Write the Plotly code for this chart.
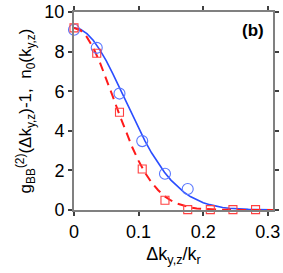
import plotly.graph_objects as go

# measured data
x_pts = [0.0, 0.0352, 0.0704, 0.1056, 0.1408, 0.176, 0.211, 0.246, 0.281]
g2_vals = [9.10, 8.19, 5.88, 3.48, 1.83, 1.06]
n0_vals = [9.20, 7.92, 4.94, 2.07, 0.49, 0.02, 0.02, 0.02, 0.02]

# fitted curves
x_fit = [0.00, 0.01, 0.02, 0.03, 0.04, 0.05, 0.06, 0.07, 0.08, 0.09, 0.10,
         0.11, 0.12, 0.13, 0.14, 0.15, 0.16, 0.17, 0.18, 0.19, 0.20,
         0.21, 0.22, 0.23, 0.24, 0.25, 0.26, 0.27, 0.28, 0.29, 0.30, 0.31]
g2_fit = [9.20, 9.13, 8.91, 8.56, 8.09, 7.53, 6.89, 6.21, 5.50, 4.80, 4.12,
          3.48, 2.89, 2.37, 1.91, 1.51, 1.18, 0.90, 0.68, 0.51, 0.37,
          0.27, 0.19, 0.13, 0.09, 0.06, 0.04, 0.03, 0.02, 0.01, 0.01, 0.01]
n0_fit = [9.20, 9.08, 8.73, 8.18, 7.46, 6.63, 5.74, 4.84, 3.98, 3.18, 2.48,
          1.88, 1.39, 1.01, 0.70, 0.48, 0.32, 0.21, 0.13, 0.08, 0.05,
          0.03, 0.02, 0.01, 0.0, 0.0, 0.0, 0.0, 0.0, 0.0, 0.0, 0.0]

x_ticks = [0, 0.1, 0.2, 0.3]
x_tick_labels = ["0", "0.1", "0.2", "0.3"]
y_ticks = [0, 2, 4, 6, 8, 10]

blue = "#2a4dff"
red = "#ff1a1a"
font_family = "Liberation Sans, Arial"

fig = go.Figure()
fig.add_trace(go.Scatter(x=x_fit, y=g2_fit, mode="lines",
                         line=dict(color=blue, width=1.6), showlegend=False))
fig.add_trace(go.Scatter(x=x_fit, y=n0_fit, mode="lines",
                         line=dict(color=red, width=2, dash="9px,6px"), showlegend=False))
fig.add_trace(go.Scatter(x=x_pts[:len(g2_vals)], y=g2_vals, mode="markers",
                         marker=dict(symbol="circle-open", size=11, color="#5a78ff",
                                     line=dict(width=1.1)), showlegend=False, cliponaxis=False))
fig.add_trace(go.Scatter(x=x_pts, y=n0_vals, mode="markers",
                         marker=dict(symbol="square-open", size=8, color="#ff4040",
                                     line=dict(width=1.1)), showlegend=False, cliponaxis=False))

axis_common = dict(showline=True, linecolor="#808080", linewidth=2, mirror="ticks",
                   ticks="outside", ticklen=4, tickwidth=1.5, tickcolor="#404040",
                   showgrid=False, zeroline=False, automargin=False,
                   tickfont=dict(family=font_family, size=18, color="black"))

fig.update_xaxes(range=[0, 0.308], tickvals=x_ticks, ticktext=x_tick_labels,
                 title=dict(text="Δk<sub>y,z</sub>/k<sub>r</sub>", standoff=7,
                            font=dict(family=font_family, size=18, color="black")),
                 **axis_common)
fig.update_yaxes(range=[0, 10], tickvals=y_ticks,
                 title=dict(text="g<sub>BB</sub><sup>(2)</sup>(Δk<sub>y,z</sub>)-1,  n<sub>0</sub>(k<sub>y,z</sub>)",
                            standoff=8,
                            font=dict(family=font_family, size=17, color="black")),
                 **axis_common)

fig.add_annotation(x=0.965, y=0.965, xref="paper", yref="paper", xanchor="right", yanchor="top",
                   text="<b>(b)</b>", showarrow=False,
                   font=dict(family=font_family, size=17, color="black"))

fig.update_layout(width=283, height=273, margin=dict(l=74, r=10, t=12, b=63, autoexpand=False),
                  plot_bgcolor="white", paper_bgcolor="white")

fig.write_html("out.html", config={"displayModeBar": False},
               post_script="document.body.style.margin='0';")
